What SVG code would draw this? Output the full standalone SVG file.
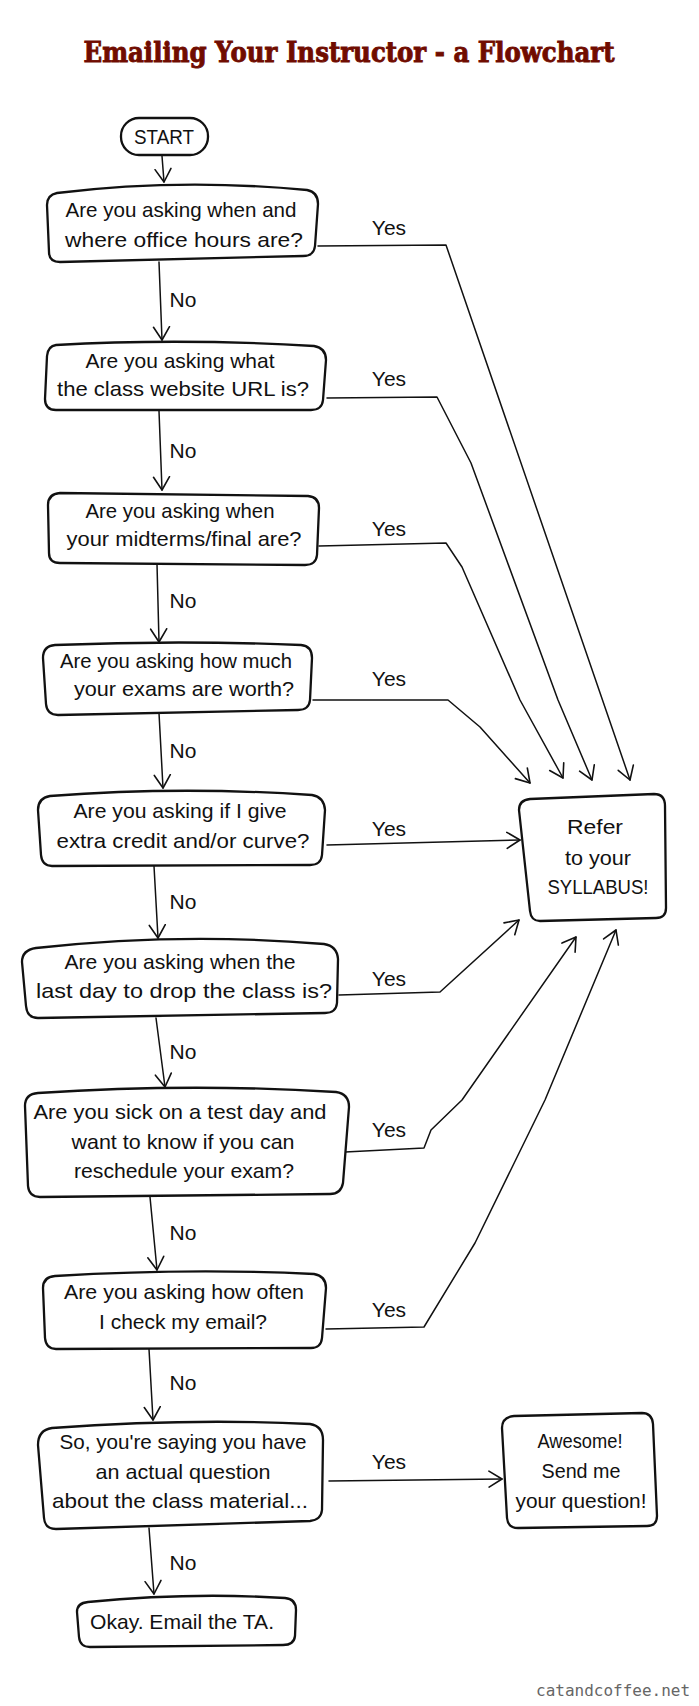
<svg xmlns="http://www.w3.org/2000/svg" width="699" height="1706" viewBox="0 0 699 1706">
<style>
.box{fill:#fff;stroke:#111;stroke-width:2.3;stroke-linejoin:round}
.t{font-family:"Liberation Sans","Open Sans",sans-serif;font-size:21px;fill:#111;text-anchor:middle}
.lbl{font-family:"Liberation Sans","Open Sans",sans-serif;font-size:21px;fill:#111;text-anchor:middle}
.c{fill:none;stroke:#111;stroke-width:1.5;stroke-linejoin:round;stroke-linecap:round}
.title{font-family:"DejaVu Serif","Liberation Serif",serif;font-weight:bold;font-size:27px;fill:#700c00;stroke:#700c00;stroke-width:0.9;text-anchor:middle}
.credit{font-family:"DejaVu Sans Mono","Liberation Mono",monospace;font-size:16px;fill:#666}
</style>
<defs>
<marker id="ah" markerUnits="userSpaceOnUse" markerWidth="16" markerHeight="20" viewBox="-14 -10 16 20" refX="0" refY="0" orient="auto">
<path d="M-13,-8 L0,0 L-13,8" fill="none" stroke="#111" stroke-width="1.6" stroke-linecap="round" stroke-linejoin="round"/>
</marker>
</defs>
<rect width="699" height="1706" fill="#fff"/>
<text class="title" x="349" y="62" textLength="531" lengthAdjust="spacingAndGlyphs">Emailing Your Instructor - a Flowchart</text>

<g id="connectors">
<path class="c" d="M162,156 L164,182" marker-end="url(#ah)"/>
<path class="c" d="M159,262 L162,340" marker-end="url(#ah)"/>
<path class="c" d="M159,411 L162,490" marker-end="url(#ah)"/>
<path class="c" d="M157,564 L159,642" marker-end="url(#ah)"/>
<path class="c" d="M159,713 L163,788" marker-end="url(#ah)"/>
<path class="c" d="M154,866 L158,938" marker-end="url(#ah)"/>
<path class="c" d="M156,1018 L165,1087" marker-end="url(#ah)"/>
<path class="c" d="M150,1197 L157,1270" marker-end="url(#ah)"/>
<path class="c" d="M149,1349 L153,1420" marker-end="url(#ah)"/>
<path class="c" d="M149,1528 L154,1594" marker-end="url(#ah)"/>
<path class="c" d="M318,246 L446,245 L630,780" marker-end="url(#ah)"/>
<path class="c" d="M327,398 L437,397 L471,463 L558,700 L592,780" marker-end="url(#ah)"/>
<path class="c" d="M319,546 L446,543 L462,567 L520,700 L563,778" marker-end="url(#ah)"/>
<path class="c" d="M313,700 L448,700 L480,727 L530,783" marker-end="url(#ah)"/>
<path class="c" d="M327,845 L520,840" marker-end="url(#ah)"/>
<path class="c" d="M339,995 L440,992 L519,920" marker-end="url(#ah)"/>
<path class="c" d="M345,1152 L424,1148 L431,1130 L462,1100 L576,937" marker-end="url(#ah)"/>
<path class="c" d="M326,1329 L424,1327 L475,1243 L545,1100 L616,930" marker-end="url(#ah)"/>
<path class="c" d="M329,1481 L502,1479" marker-end="url(#ah)"/>
<text class="lbl" x="389" y="235">Yes</text>
<text class="lbl" x="389" y="386">Yes</text>
<text class="lbl" x="389" y="536">Yes</text>
<text class="lbl" x="389" y="686">Yes</text>
<text class="lbl" x="389" y="836">Yes</text>
<text class="lbl" x="389" y="986">Yes</text>
<text class="lbl" x="389" y="1137">Yes</text>
<text class="lbl" x="389" y="1317">Yes</text>
<text class="lbl" x="389" y="1469">Yes</text>
<text class="lbl" x="183" y="307">No</text>
<text class="lbl" x="183" y="458">No</text>
<text class="lbl" x="183" y="608">No</text>
<text class="lbl" x="183" y="758">No</text>
<text class="lbl" x="183" y="909">No</text>
<text class="lbl" x="183" y="1059">No</text>
<text class="lbl" x="183" y="1240">No</text>
<text class="lbl" x="183" y="1390">No</text>
<text class="lbl" x="183" y="1570">No</text>
</g>

<g id="start">
<rect class="box" x="121" y="118" width="87" height="37" rx="18"/>
<text class="t" x="164" y="144" textLength="60" lengthAdjust="spacingAndGlyphs">START</text>
</g>

<g id="q1">
<path class="box" d="M57,193 Q180,178 307,190 Q318,192 318,204 L315,246 Q314,256 303,256 L60,262 Q49,262 49,252 L47,205 Q47,195 57,193 Z"/>
<text class="t" x="181" y="217" textLength="231" lengthAdjust="spacingAndGlyphs">Are you asking when and</text>
<text class="t" x="184" y="247" textLength="238" lengthAdjust="spacingAndGlyphs">where office hours are?</text>
</g>

<g id="q2">
<path class="box" d="M56,345 Q180,338 314,346 Q326,348 326,360 L323,400 Q322,410 311,410 L56,410 Q45,410 45,399 L47,356 Q48,346 56,345 Z"/>
<text class="t" x="180" y="368" textLength="189" lengthAdjust="spacingAndGlyphs">Are you asking what</text>
<text class="t" x="183" y="396" textLength="252" lengthAdjust="spacingAndGlyphs">the class website URL is?</text>
</g>

<g id="q3">
<path class="box" d="M60,493 L308,496 Q319,497 319,508 L317,555 Q316,565 305,565 L60,563 Q49,563 49,553 L48,505 Q48,494 60,493 Z"/>
<text class="t" x="180" y="518" textLength="189" lengthAdjust="spacingAndGlyphs">Are you asking when</text>
<text class="t" x="184" y="546" textLength="235" lengthAdjust="spacingAndGlyphs">your midterms/final are?</text>
</g>

<g id="q4">
<path class="box" d="M55,645 Q180,640 301,645 Q312,646 312,658 L310,700 Q309,710 298,710 L58,715 Q47,715 46,704 L43,658 Q43,646 55,645 Z"/>
<text class="t" x="176" y="668" textLength="232" lengthAdjust="spacingAndGlyphs">Are you asking how much</text>
<text class="t" x="184" y="696" textLength="220" lengthAdjust="spacingAndGlyphs">your exams are worth?</text>
</g>

<g id="q5">
<path class="box" d="M50,796 Q180,786 312,795 Q324,797 325,810 L322,855 Q321,865 310,865 L52,866 Q42,866 41,855 L38,810 Q38,798 50,796 Z"/>
<text class="t" x="180" y="818" textLength="213" lengthAdjust="spacingAndGlyphs">Are you asking if I give</text>
<text class="t" x="183" y="848" textLength="253" lengthAdjust="spacingAndGlyphs">extra credit and/or curve?</text>
</g>

<g id="q6">
<path class="box" d="M36,948 Q180,932 324,944 Q337,946 338,959 L337,1003 Q336,1013 325,1013 L38,1018 Q27,1018 26,1006 L22,962 Q22,950 36,948 Z"/>
<text class="t" x="180" y="969" textLength="231" lengthAdjust="spacingAndGlyphs">Are you asking when the</text>
<text class="t" x="184" y="998" textLength="296" lengthAdjust="spacingAndGlyphs">last day to drop the class is?</text>
</g>

<g id="q7">
<path class="box" d="M38,1093 Q190,1083 336,1092 Q349,1094 349,1107 L343,1183 Q341,1194 330,1194 L40,1197 Q29,1197 28,1186 L25,1106 Q25,1094 38,1093 Z"/>
<text class="t" x="180" y="1119" textLength="293" lengthAdjust="spacingAndGlyphs">Are you sick on a test day and</text>
<text class="t" x="183" y="1149" textLength="223" lengthAdjust="spacingAndGlyphs">want to know if you can</text>
<text class="t" x="184" y="1178" textLength="220" lengthAdjust="spacingAndGlyphs">reschedule your exam?</text>
</g>

<g id="q8">
<path class="box" d="M55,1276 Q190,1268 314,1274 Q326,1276 326,1288 L322,1338 Q321,1348 311,1348 L56,1349 Q46,1349 45,1338 L43,1288 Q43,1277 55,1276 Z"/>
<text class="t" x="184" y="1299" textLength="240" lengthAdjust="spacingAndGlyphs">Are you asking how often</text>
<text class="t" x="183" y="1329" textLength="168" lengthAdjust="spacingAndGlyphs">I check my email?</text>
</g>

<g id="q9">
<path class="box" d="M52,1428 Q190,1418 310,1424 Q323,1426 323,1440 L322,1510 Q321,1520 310,1521 L56,1529 Q45,1529 44,1518 L38,1445 Q38,1430 52,1428 Z"/>
<text class="t" x="183" y="1449" textLength="247" lengthAdjust="spacingAndGlyphs">So, you're saying you have</text>
<text class="t" x="183" y="1479" textLength="175" lengthAdjust="spacingAndGlyphs">an actual question</text>
<text class="t" x="180" y="1508" textLength="256" lengthAdjust="spacingAndGlyphs">about the class material...</text>
</g>

<g id="email-ta">
<path class="box" d="M88,1602 Q190,1592 285,1598 Q296,1599 296,1610 L295,1636 Q294,1645 283,1645 L90,1647 Q80,1647 79,1637 L77,1612 Q77,1603 88,1602 Z"/>
<text class="t" x="182" y="1629" textLength="184" lengthAdjust="spacingAndGlyphs">Okay. Email the TA.</text>
</g>

<g id="syllabus">
<path class="box" d="M530,799 L654,794 Q665,794 665,806 L666,908 Q666,918 656,918 L540,921 Q531,921 530,911 L519,810 Q519,800 530,799 Z"/>
<text class="t" x="595" y="834" textLength="56" lengthAdjust="spacingAndGlyphs">Refer</text>
<text class="t" x="598" y="865" textLength="66" lengthAdjust="spacingAndGlyphs">to your</text>
<text class="t" x="598" y="894" textLength="101" lengthAdjust="spacingAndGlyphs">SYLLABUS!</text>
</g>

<g id="awesome">
<path class="box" d="M514,1416 L642,1413 Q652,1413 653,1424 L657,1516 Q657,1526 647,1526 L518,1528 Q508,1528 507,1518 L502,1428 Q502,1417 514,1416 Z"/>
<text class="t" x="580" y="1448" textLength="85" lengthAdjust="spacingAndGlyphs">Awesome!</text>
<text class="t" x="581" y="1478" textLength="79" lengthAdjust="spacingAndGlyphs">Send me</text>
<text class="t" x="581" y="1508" textLength="131" lengthAdjust="spacingAndGlyphs">your question!</text>
</g>

<text class="credit" x="536" y="1696" textLength="154" lengthAdjust="spacingAndGlyphs">catandcoffee.net</text>
</svg>
